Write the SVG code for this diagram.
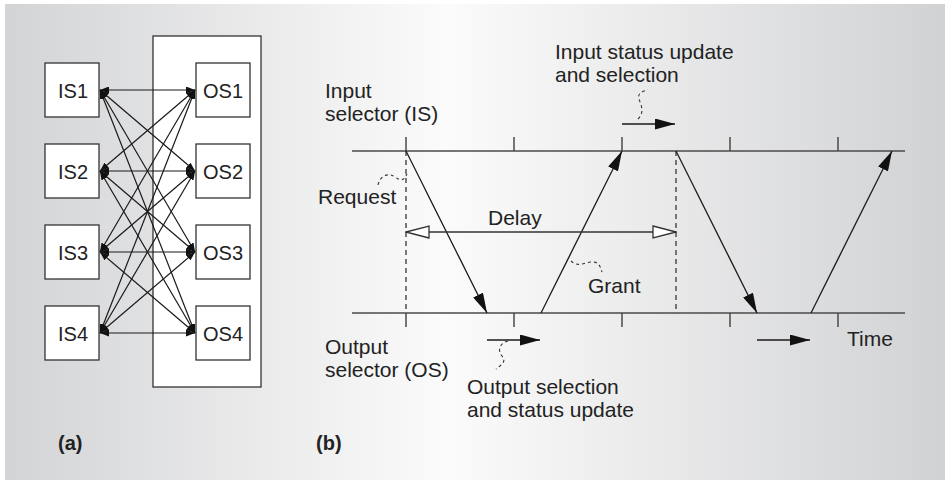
<svg xmlns="http://www.w3.org/2000/svg" width="945" height="480" viewBox="0 0 945 480">
  <defs>
    <linearGradient id="bg" x1="0" y1="0" x2="1" y2="0">
      <stop offset="0" stop-color="#d3d4d6"/>
      <stop offset="0.47" stop-color="#fbfbfb"/>
      <stop offset="1" stop-color="#d1d2d4"/>
    </linearGradient>
    <marker id="sm" viewBox="0 0 9 7" refX="9" refY="3.5" markerWidth="9" markerHeight="7" markerUnits="userSpaceOnUse" orient="auto-start-reverse">
      <path d="M0,0 L9,3.5 L0,7 z" fill="#111"/>
    </marker>
    <marker id="big" viewBox="0 0 20 11" refX="20" refY="5.5" markerWidth="20" markerHeight="11" markerUnits="userSpaceOnUse" orient="auto">
      <path d="M0,0 L20,5.5 L0,11 z" fill="#111"/>
    </marker>
    <marker id="hollow" viewBox="-1 -1 25 14" refX="23" refY="6" markerWidth="25" markerHeight="14" markerUnits="userSpaceOnUse" orient="auto-start-reverse">
      <path d="M0,0 L23,6 L0,12 z" fill="#fff" stroke="#333" stroke-width="1.3"/>
    </marker>
    <style>
      .t { font-family: "Liberation Sans", Arial, sans-serif; font-size: 21px; fill: #222; }
      .lbl { font-family: "Liberation Sans", Arial, sans-serif; font-size: 20px; fill: #222; text-anchor: middle; }
      .b { font-family: "Liberation Sans", Arial, sans-serif; font-size: 20px; font-weight: bold; fill: #222; }
      .box { fill: #fff; stroke: #333; stroke-width: 1.3; }
      .x { stroke: #1a1a1a; stroke-width: 1.2; fill: none; marker-start: url(#sm); marker-end: url(#sm); }
      .axis { stroke: #4a4a4a; stroke-width: 1.7; fill: none; }
      .tick { stroke: #4a4a4a; stroke-width: 1.5; }
      .arr { stroke: #1a1a1a; stroke-width: 1.3; fill: none; marker-end: url(#big); }
      .dash { stroke: #444; stroke-width: 1.4; stroke-dasharray: 5 4; fill: none; }
      .lead { stroke: #333; stroke-width: 1.1; stroke-dasharray: 3 3; fill: none; }
    </style>
  </defs>

  <rect x="5" y="4" width="940" height="476" fill="url(#bg)"/>

  <!-- Panel (a) -->
  <rect id="os-frame" x="153" y="36" width="108" height="351" class="box"/>

  <g id="IS1"><rect x="45" y="63" width="54" height="54" class="box"/><text x="73" y="98" class="lbl">IS1</text></g>
  <g id="IS2"><rect x="45" y="144" width="54" height="54" class="box"/><text x="73" y="179" class="lbl">IS2</text></g>
  <g id="IS3"><rect x="45" y="225" width="54" height="54" class="box"/><text x="73" y="260" class="lbl">IS3</text></g>
  <g id="IS4"><rect x="45" y="306" width="54" height="54" class="box"/><text x="73" y="341" class="lbl">IS4</text></g>
  <g id="OS1"><rect x="196" y="63" width="54" height="54" class="box"/><text x="223" y="98" class="lbl">OS1</text></g>
  <g id="OS2"><rect x="196" y="144" width="54" height="54" class="box"/><text x="223" y="179" class="lbl">OS2</text></g>
  <g id="OS3"><rect x="196" y="225" width="54" height="54" class="box"/><text x="223" y="260" class="lbl">OS3</text></g>
  <g id="OS4"><rect x="196" y="306" width="54" height="54" class="box"/><text x="223" y="341" class="lbl">OS4</text></g>

  <g id="crossbar">
    <line x1="100" y1="90" x2="195" y2="90" class="x"/>
    <line x1="100" y1="90" x2="195" y2="171" class="x"/>
    <line x1="100" y1="90" x2="195" y2="252" class="x"/>
    <line x1="100" y1="90" x2="195" y2="333" class="x"/>
    <line x1="100" y1="171" x2="195" y2="90" class="x"/>
    <line x1="100" y1="171" x2="195" y2="171" class="x"/>
    <line x1="100" y1="171" x2="195" y2="252" class="x"/>
    <line x1="100" y1="171" x2="195" y2="333" class="x"/>
    <line x1="100" y1="252" x2="195" y2="90" class="x"/>
    <line x1="100" y1="252" x2="195" y2="171" class="x"/>
    <line x1="100" y1="252" x2="195" y2="252" class="x"/>
    <line x1="100" y1="252" x2="195" y2="333" class="x"/>
    <line x1="100" y1="333" x2="195" y2="90" class="x"/>
    <line x1="100" y1="333" x2="195" y2="171" class="x"/>
    <line x1="100" y1="333" x2="195" y2="252" class="x"/>
    <line x1="100" y1="333" x2="195" y2="333" class="x"/>
  </g>

  <text x="58" y="450" class="b">(a)</text>

  <!-- Panel (b) -->
  <g id="is-timeline">
    <line x1="352" y1="151" x2="905" y2="151" class="axis"/>
    <line x1="406" y1="137" x2="406" y2="151" class="tick"/>
    <line x1="514" y1="137" x2="514" y2="151" class="tick"/>
    <line x1="622" y1="137" x2="622" y2="151" class="tick"/>
    <line x1="730" y1="137" x2="730" y2="151" class="tick"/>
    <line x1="838" y1="137" x2="838" y2="151" class="tick"/>
  </g>
  <g id="os-timeline">
    <line x1="352" y1="313" x2="905" y2="313" class="axis"/>
    <line x1="406" y1="313" x2="406" y2="327" class="tick"/>
    <line x1="514" y1="313" x2="514" y2="327" class="tick"/>
    <line x1="622" y1="313" x2="622" y2="327" class="tick"/>
    <line x1="730" y1="313" x2="730" y2="327" class="tick"/>
    <line x1="838" y1="313" x2="838" y2="327" class="tick"/>
  </g>

  <g id="connectors">
    <line x1="406" y1="151" x2="406" y2="313" class="dash"/>
    <line x1="676" y1="151" x2="676" y2="313" class="dash"/>
    <line x1="406" y1="151" x2="487" y2="313" class="arr"/>
    <line x1="541" y1="313" x2="622" y2="151" class="arr"/>
    <line x1="676" y1="151" x2="757" y2="313" class="arr"/>
    <line x1="811" y1="313" x2="892" y2="151" class="arr"/>
    <line x1="406" y1="232" x2="676" y2="232" stroke="#333" stroke-width="1.4" marker-start="url(#hollow)" marker-end="url(#hollow)"/>
    <line x1="622" y1="124" x2="675" y2="124" class="arr"/>
    <line x1="487" y1="340" x2="540" y2="340" class="arr"/>
    <line x1="757" y1="340" x2="810" y2="340" class="arr"/>
    <path d="M378,185 C380,176 388,172 395,177 S404,180 407,174" class="lead"/>
    <path d="M571,261 C578,268 585,262 592,262 S600,266 602,272" class="lead"/>
    <path d="M638,119 C645,112 641,105 639,99 S643,91 648,90" class="lead"/>
    <path d="M508,341 C500,343 497,350 502,356 S501,365 496,369" class="lead"/>
  </g>

  <text class="t"><tspan x="325" y="98">Input</tspan><tspan x="325" y="121">selector (IS)</tspan></text>
  <text class="t"><tspan x="555" y="59">Input status update</tspan><tspan x="555" y="82">and selection</tspan></text>
  <text x="318" y="204" class="t">Request</text>
  <text x="488" y="225" class="t">Delay</text>
  <text x="588" y="293" class="t">Grant</text>
  <text class="t"><tspan x="325" y="354">Output</tspan><tspan x="325" y="377">selector (OS)</tspan></text>
  <text class="t"><tspan x="467" y="394">Output selection</tspan><tspan x="467" y="417">and status update</tspan></text>
  <text x="847" y="346" class="t">Time</text>
  <text x="316" y="450" class="b">(b)</text>
</svg>
